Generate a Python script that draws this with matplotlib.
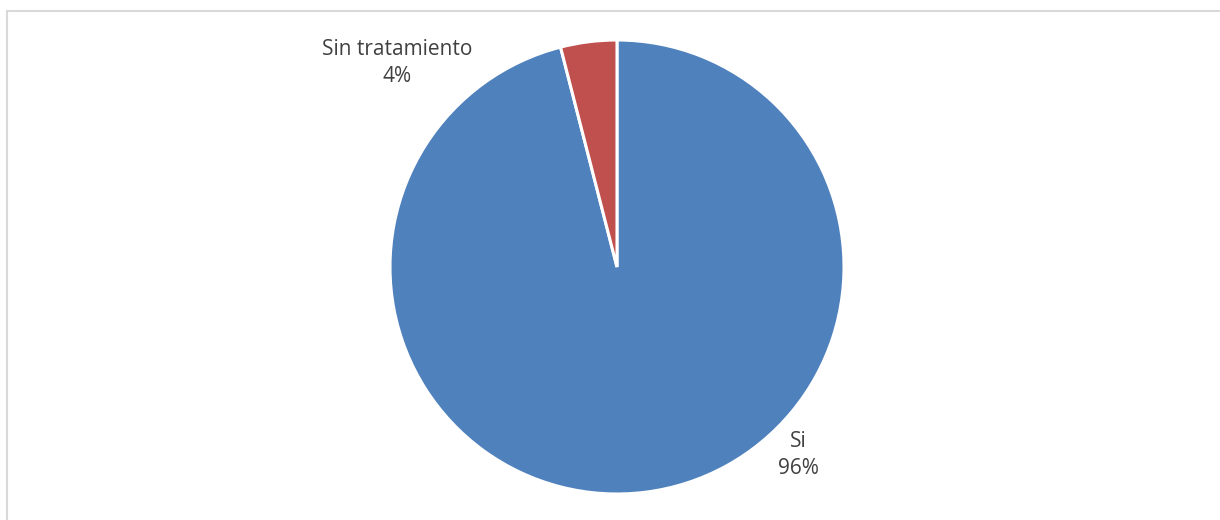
import matplotlib.pyplot as plt
from matplotlib.patches import Rectangle

labels = ['Si', 'Sin tratamiento']
values = [96, 4]
colors = ['#4F81BD', '#C0504D']

W, H = 1220, 520
cx, cy, r = 617, 267, 227  # pie centre / radius in pixels

fig = plt.figure(figsize=(W / 100, H / 100), dpi=100)
ax = fig.add_axes([0, 0, 1, 1])
ax.pie(values, colors=colors, startangle=90, counterclock=False,
       wedgeprops=dict(edgecolor='white', linewidth=2.2))
ax.set_xlim(-cx / r, (W - cx) / r)
ax.set_ylim(-(H - cy) / r, cy / r)
ax.set_aspect('equal')
ax.axis('off')

total = sum(values)
pct = ['%d%%' % round(100 * v / total) for v in values]
lbl_pos = [((798 - cx) / r, -(455 - cy) / r), ((397 - cx) / r, (cy - 63) / r)]
for (x, y), name, p in zip(lbl_pos, labels, pct):
    ax.text(x, y, name + '\n' + p, ha='center', va='center',
            fontsize=15, color='#404040', family='Open Sans', linespacing=1.4)

# light chart-area border
fig.patches.append(Rectangle((6.5 / W, -0.1), 1.2, (H - 10.5) / H + 0.1,
                             transform=fig.transFigure, fill=False,
                             edgecolor='#D9D9D9', linewidth=1.5))

plt.savefig('out.png', dpi=100)
